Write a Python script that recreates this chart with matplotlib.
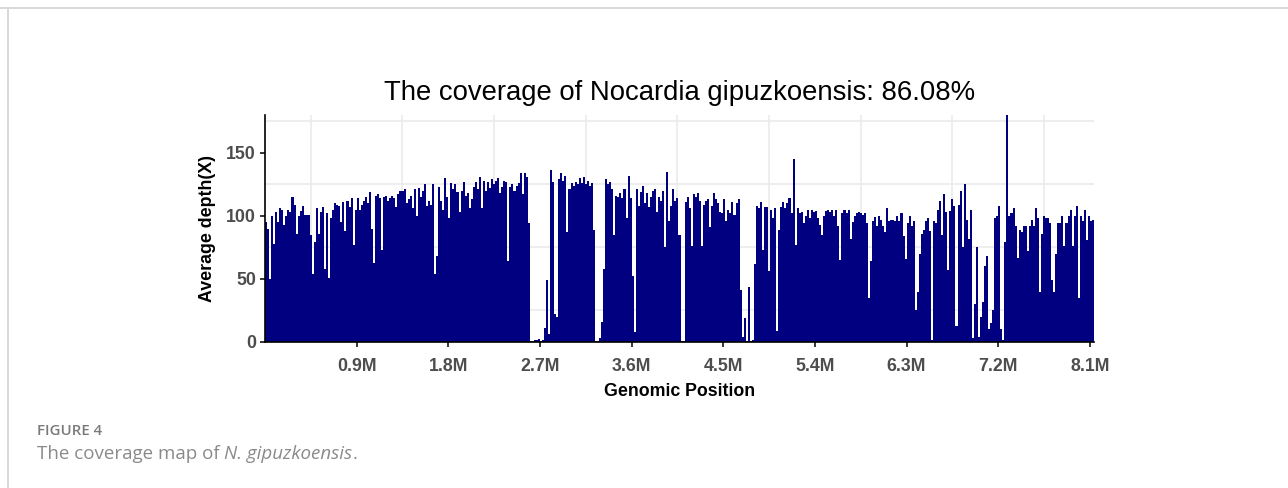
import numpy as np
import matplotlib
matplotlib.use("Agg")
import matplotlib.pyplot as plt
from matplotlib.lines import Line2D

# ── Data: average depth per 20 kb window ──────────────────────────────────────
BIN = 20_000

depth_0 = [95, 90, 50, 100, 78, 103, 95, 106, 105, 93,
           100, 105, 103, 115, 109, 86, 100, 104, 108, 101,
           101, 101, 85, 54, 79, 106, 86, 103, 107, 58,
           102, 51, 98, 105, 110, 109, 108, 95, 111, 88,
           112, 107, 114, 77, 105, 114, 105, 109, 112, 115,
           110, 119, 90, 63, 116, 117, 114, 73]
depth_1 = [115, 116, 112, 114, 116, 114, 107, 117, 120, 120,
           121, 110, 113, 116, 106, 121, 100, 122, 115, 120,
           125, 108, 112, 109, 125, 54, 68, 123, 112, 105,
           130, 115, 98, 126, 121, 125, 119, 103, 120, 127,
           116, 118, 106, 113, 123, 127, 121, 131, 106, 128,
           120, 127, 122, 129, 125, 128, 130, 118, 123]
depth_2 = [128, 127, 64, 123, 125, 120, 124, 126, 134, 117,
           134, 131, 94, 1, 1, 1.5, 1.5, 2.5, 1, 1.5,
           11, 49, 6, 136, 127, 22, 20, 129, 134, 128,
           132, 87, 121, 126, 124, 127, 125, 130, 126, 131,
           125, 128, 124, 126, 89, 0.5, 1, 3, 16, 58,
           129, 125, 127, 121, 85, 116, 115, 118, 114]
depth_3 = [121, 98, 132, 114, 52, 8, 121, 108, 119, 124,
           110, 118, 107, 115, 120, 121, 103, 115, 112, 120,
           75, 135, 96, 108, 121, 112, 114, 85, 1, 1,
           111, 115, 106, 76, 117, 115, 118, 112, 76, 109,
           112, 113, 91, 108, 118, 113, 110, 103, 102, 113,
           96, 105, 102, 111, 101, 110, 113, 41, 4]
depth_4 = [19, 1, 44, 1, 1.5, 62, 108, 106, 111, 73,
           107, 107, 56, 105, 98, 106, 9, 89, 107, 111,
           106, 110, 114, 102, 145, 77, 106, 102, 103, 94,
           100, 105, 98, 105, 103, 104, 98, 93, 85, 100,
           104, 105, 103, 105, 100, 105, 92, 65, 102, 105,
           102, 105, 82, 95, 100, 102, 103, 102, 101]
depth_5 = [102, 94, 35, 64, 96, 99, 92, 100, 97, 92,
           87, 106, 96, 97, 97, 96, 100, 96, 102, 84,
           66, 94, 100, 92, 96, 25, 40, 70, 86, 89,
           96, 98, 88, 1.5, 96, 94, 105, 112, 85, 117,
           103, 57, 104, 113, 108, 13, 109, 120, 75, 125,
           97, 82, 105, 3, 30, 75, 4, 20, 32]
depth_6 = [60, 68, 10, 15, 25, 98, 100, 108, 10, 1.6,
           79, 180, 100, 102, 106, 92, 67, 89, 87, 92,
           92, 72, 92, 97, 92, 106, 98, 40, 86, 100,
           98, 98, 94, 49, 40, 70, 94, 94, 100, 76,
           94, 100, 105, 76, 100, 108, 35, 100, 96, 105,
           81, 100, 96, 97]

x_ticks  = [0.9e6, 1.8e6, 2.7e6, 3.6e6, 4.5e6, 5.4e6, 6.3e6, 7.2e6, 8.1e6]
x_labels = ["0.9M", "1.8M", "2.7M", "3.6M", "4.5M", "5.4M", "6.3M", "7.2M", "8.1M"]
y_ticks  = [0, 50, 100, 150]

TITLE = "The coverage of Nocardia gipuzkoensis: 86.08%"

depth = np.concatenate([depth_0, depth_1, depth_2, depth_3, depth_4, depth_5, depth_6])
edges = np.arange(len(depth) + 1) * BIN

# ── Figure ────────────────────────────────────────────────────────────────────
W, H = 1288, 488
fig = plt.figure(figsize=(W / 100, H / 100), dpi=100)
ax = fig.add_axes([265 / W, 1 - 342 / H, (1094 - 265) / W, (342 - 115) / H])

# adjacent windows drawn as one filled step outline (no seams between bars)
ax.stairs(depth, edges, baseline=0, fill=True, color="#000080",
          linewidth=0, zorder=2)

ax.set_xlim(0, edges[-1])
ax.set_ylim(0, 180)

# grid lines sit half-way between the labelled breaks
ax.set_xticks(x_ticks)
ax.set_xticklabels(x_labels)
ax.set_xticks([t - 0.45e6 for t in x_ticks], minor=True)
ax.set_yticks(y_ticks)
ax.set_yticks([t + 25 for t in y_ticks], minor=True)
ax.grid(False, which="major")
ax.grid(True, which="minor", color="#EBEBEB", linewidth=1.2)
ax.set_axisbelow(True)
ax.tick_params(which="minor", length=0)
ax.tick_params(which="major", length=3.5, width=1.1, color="black",
               labelcolor="#4D4D4D", labelsize=12.8)
ax.tick_params(axis="x", which="major", pad=8)
ax.tick_params(axis="y", which="major", pad=3)
for lab in ax.get_xticklabels() + ax.get_yticklabels():
    lab.set_fontweight("bold")
    lab.set_family("Liberation Sans")

for side in ("top", "right"):
    ax.spines[side].set_visible(False)
for side in ("left", "bottom"):
    ax.spines[side].set_linewidth(1.2)
    ax.spines[side].set_color("black")
    ax.spines[side].set_zorder(3)

ax.set_title(TITLE, fontsize=19.8, family="Liberation Sans", pad=11)
ax.set_xlabel("Genomic Position", fontsize=12.8, fontweight="bold",
              family="Liberation Sans", labelpad=5.5)
ax.set_ylabel("Average depth(X)", fontsize=12.8, fontweight="bold",
              family="Liberation Sans", labelpad=7)

# ── Page frame + caption ──────────────────────────────────────────────────────
fig.add_artist(Line2D([0, 1], [1 - 7.5 / H, 1 - 7.5 / H], color="#d6d6d6", linewidth=1.3))
fig.add_artist(Line2D([7.5 / W, 7.5 / W], [0, 1 - 7.5 / H], color="#d6d6d6", linewidth=1.3))

fig.text(37 / W, 1 - 431 / H, "FIGURE 4", fontsize=10.8, color="#7a7a7a",
         fontweight="semibold", family="Open Sans", va="center")

cap_y = 1 - 454 / H
t1 = fig.text(37 / W, cap_y, "The coverage map of ", fontsize=13.5, color="#8a8a8a",
              family="Open Sans", va="center")
fig.canvas.draw()
r = fig.canvas.get_renderer()
x2 = fig.transFigure.inverted().transform((t1.get_window_extent(r).x1, 0))[0]
t2 = fig.text(x2, cap_y, "N. gipuzkoensis", fontsize=13.5, color="#8a8a8a",
              family="Open Sans", style="italic", va="center")
x3 = fig.transFigure.inverted().transform((t2.get_window_extent(r).x1, 0))[0]
fig.text(x3, cap_y, ".", fontsize=13.5, color="#8a8a8a", family="Open Sans", va="center")

fig.savefig("out.png", dpi=100)
